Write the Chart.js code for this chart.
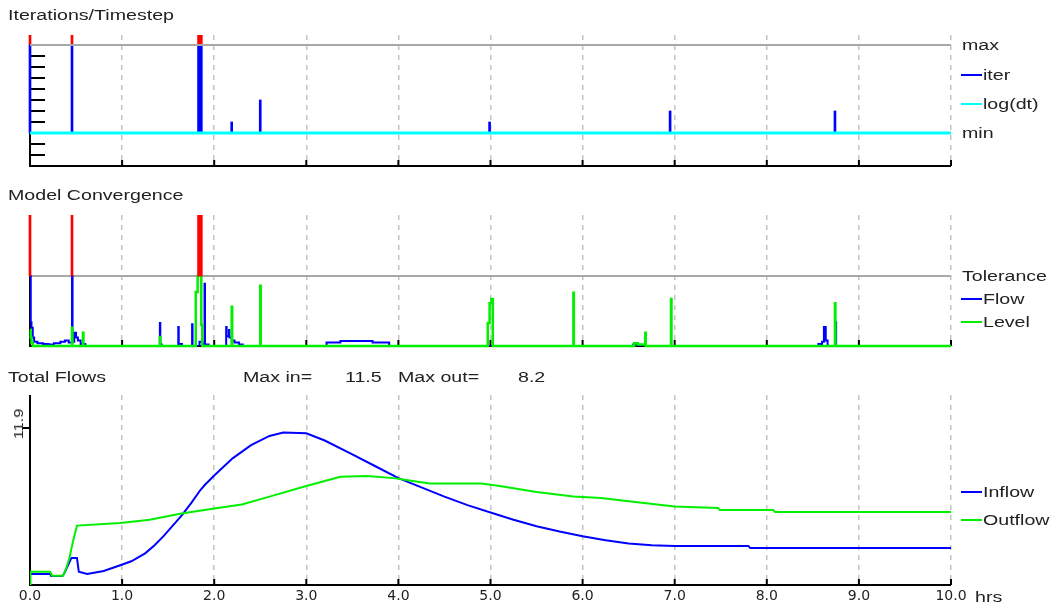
<!DOCTYPE html>
<html>
<head>
<meta charset="utf-8">
<script src="https://cdn.jsdelivr.net/npm/chart.js@4.4.0/dist/chart.umd.min.js"></script>
<style>
  body { margin: 0; background: #fff; }
  #wrap { position: relative; width: 1056px; height: 605px; overflow: hidden;
          font-family: "Liberation Sans", Arial, sans-serif; font-size: 14px; color: #222; }
  canvas { position: absolute; left: 0; }
  .t { position: absolute; white-space: nowrap; line-height: 16px;
       transform-origin: 0 50%; transform: scaleX(1.4); }
  .key { position: absolute; left: 961px; width: 21px; height: 2px; }
  .rot { position: absolute; white-space: nowrap; line-height: 14px; font-size: 13px;
         transform: translate(-50%, -50%) rotate(-90deg) scaleX(1.25); }
</style>
</head>
<body>
<div id="wrap">
  <canvas id="c1" width="1056" height="180" style="top:0"></canvas>
  <canvas id="c2" width="1056" height="180" style="top:180px"></canvas>
  <canvas id="c3" width="1056" height="245" style="top:360px"></canvas>

  <div class="t" style="left:8px;top:7px">Iterations/Timestep</div>
  <div class="t" style="left:962px;top:37px">max</div>
  <div class="key" style="top:74px;background:#0000ff"></div>
  <div class="t" style="left:983px;top:67px">iter</div>
  <div class="key" style="top:103px;background:#00ffff"></div>
  <div class="t" style="left:983px;top:96px">log(dt)</div>
  <div class="t" style="left:962px;top:125px">min</div>

  <div class="t" style="left:8px;top:187px">Model Convergence</div>
  <div class="t" style="left:962px;top:268px">Tolerance</div>
  <div class="key" style="top:298px;background:#0000ff"></div>
  <div class="t" style="left:983px;top:291px">Flow</div>
  <div class="key" style="top:321px;background:#00f000"></div>
  <div class="t" style="left:983px;top:314px">Level</div>

  <div class="t" style="left:8px;top:369px">Total Flows</div>
  <div class="t" style="left:243px;top:369px">Max in=</div>
  <div class="t" style="left:345px;top:369px">11.5</div>
  <div class="t" style="left:398px;top:369px">Max out=</div>
  <div class="t" style="left:518px;top:369px">8.2</div>
  <div class="key" style="top:491px;background:#0000ff"></div>
  <div class="t" style="left:983px;top:484px">Inflow</div>
  <div class="key" style="top:519px;background:#00f000"></div>
  <div class="t" style="left:983px;top:512px">Outflow</div>
  <div class="rot" style="left:19px;top:424px">11.9</div>
  <div class="t" style="left:975px;top:589px">hrs</div>
</div>

<script>
// --- data ---------------------------------------------------------------
const hourTicks = [0, 1, 2, 3, 4, 5, 6, 7, 8, 9, 10];

// iterations per timestep (above the min level)
const iterMax = 8;
const iterMin = 0;
const iterTicks = [-2, -1, 1, 2, 3, 4, 5, 6, 7];
const iterT = [0, 0.456, 1.83, 1.845, 1.86, 2.19, 2.5, 4.99, 6.95, 8.74];
const iterV = [8, 8, 8, 8, 8, 1, 3, 1, 2, 2];
const iterOverT = [0, 0.456, 1.83, 1.845, 1.86];
const logDtT = [0, 10];
const logDtV = [0, 0];

// convergence, relative to tolerance
const tolerance = 1;
const convOverT = [0, 0.456, 1.83, 1.845, 1.86];
const flowT = [0, 0.008, 0.016, 0.03, 0.045, 0.08, 0.14, 0.2, 0.26, 0.33, 0.38, 0.42,
  0.456, 0.462, 0.48, 0.5, 0.52, 0.55, 0.6, 1.41, 1.415, 1.43, 1.61, 1.615, 1.65,
  1.76, 1.765, 1.84, 1.87, 1.895, 1.9, 1.94, 2.13, 2.135, 2.16, 2.165, 2.19, 2.22,
  2.27, 2.31, 3.22, 3.37, 3.72, 3.9, 6.55, 6.58, 8.56, 8.6, 8.62, 8.64, 8.66,
  8.748, 8.753, 10];
const flowV = [1.0, 0.34, 0.26, 0.12, 0.06, 0.04, 0.03, 0.02, 0.04, 0.06, 0.08, 0.05,
  1.0, 0.06, 0.19, 0.12, 0.08, 0.03, 0, 0.33, 0.02, 0, 0.27, 0.03, 0,
  0.31, 0, 0.06, 0.03, 0.89, 0.02, 0, 0.27, 0.14, 0.23, 0.12, 0.08, 0.05,
  0.02, 0, 0.05, 0.07, 0.05, 0, 0.02, 0, 0.03, 0.06, 0.27, 0.08, 0,
  0.34, 0, 0];
const levelT = [0, 0.008, 0.016, 0.03, 0.456, 0.461, 0.575, 0.58, 1.41, 1.415,
  1.8, 1.82, 1.86, 1.87, 2.19, 2.195, 2.5, 2.505, 4.97, 4.99, 5.01, 5.025,
  5.9, 5.905, 6.56, 6.6, 6.68, 6.685, 6.96, 6.965, 8.74, 8.745, 10];
const levelV = [0.23, 0.12, 0.05, 0, 0.26, 0, 0.19, 0, 0.13, 0,
  0.77, 1.0, 0.3, 0, 0.56, 0, 0.86, 0, 0.33, 0.61, 0.67, 0,
  0.76, 0, 0.04, 0.02, 0.19, 0, 0.67, 0, 0.61, 0, 0];

// total flows
const inflowT = [0, 0.22, 0.23, 0.35, 0.37, 0.4, 0.45, 0.51, 0.53, 0.62, 0.8, 0.98,
  1.1, 1.25, 1.35, 1.45, 1.55, 1.65, 1.75, 1.85, 1.9, 2.0, 2.2, 2.4, 2.6, 2.75,
  3.0, 3.2, 3.5, 3.75, 4.0, 4.25, 4.5, 4.75, 5.0, 5.25, 5.5, 5.75, 6.0, 6.25,
  6.5, 6.75, 7.0, 7.8, 7.82, 10];
const inflowV = [0.83, 0.83, 0.68, 0.68, 0.85, 1.3, 2.05, 2.05, 1.0, 0.83, 1.06, 1.5,
  1.8, 2.4, 3.0, 3.7, 4.5, 5.3, 6.2, 7.2, 7.6, 8.3, 9.6, 10.6, 11.3, 11.55,
  11.5, 10.95, 9.9, 9.0, 8.1, 7.4, 6.7, 6.05, 5.5, 4.95, 4.45, 4.05, 3.7, 3.4,
  3.15, 3.02, 2.96, 2.96, 2.8, 2.8];
const outflowT = [0, 0.005, 0.22, 0.24, 0.36, 0.4, 0.43, 0.47, 0.51, 0.98, 1.3, 1.63,
  2.0, 2.3, 2.6, 3.0, 3.37, 3.66, 3.95, 4.05, 4.34, 4.9, 5.1, 5.5, 5.9, 6.2,
  6.5, 7.0, 7.47, 7.49, 8.07, 8.09, 10];
const outflowV = [0, 1.0, 1.0, 0.7, 0.7, 1.4, 2.1, 3.4, 4.5, 4.7, 4.95, 5.4,
  5.8, 6.1, 6.7, 7.5, 8.2, 8.26, 8.1, 8.0, 7.7, 7.7, 7.5, 7.05, 6.7, 6.6,
  6.35, 5.95, 5.84, 5.69, 5.69, 5.53, 5.53];
const flowTick = 11.9;

// --- helpers ------------------------------------------------------------
const BLUE = '#0000ff', GREEN = '#00f000', RED = '#ff0000', CYAN = '#00ffff', GREY = '#a8a8a8';
Chart.defaults.font.family = 'DejaVu Sans';

const pts = (ts, vs) => ts.map((t, i) => ({ x: t, y: vs[i] }));
const line = (ts, vs, color, width, extra) => Object.assign({
  type: 'line', data: pts(ts, vs), borderColor: color, borderWidth: width,
  pointRadius: 0, tension: 0, fill: false
}, extra || {});
const bars = (ts, lows, highs, color) => ({
  type: 'bar', data: ts.map((t, i) => ({ x: t, y: [lows[i], highs[i]] })),
  backgroundColor: color, barThickness: 2, grouped: false,
  clip: { left: 3, right: 3, top: 0, bottom: 0 }
});

function xScale(labels) {
  return {
    type: 'linear', min: 0, max: 10, offset: false,
    ticks: { display: labels, stepSize: 1, autoSkip: false, maxRotation: 0, padding: 3,
             color: '#222', font: { size: 14 }, callback: v => v.toFixed(1) },
    grid: { color: '#c4c4c4', lineWidth: 1.5, drawTicks: false, offset: false },
    border: { display: false, dash: [5, 5] },
    afterFit: s => { s.height = labels ? 20 : 0; }
  };
}

// axis lines, y ticks and inward hour ticks, under the data
const framePlugin = {
  id: 'frame',
  beforeDatasetsDraw(chart, args, opts) {
    const { ctx, chartArea: a, scales: { x, y } } = chart;
    ctx.save();
    ctx.strokeStyle = '#000';
    ctx.lineWidth = 2;
    ctx.beginPath();
    ctx.moveTo(a.left, a.top);
    ctx.lineTo(a.left, a.bottom);
    ctx.lineTo(a.right, a.bottom);
    (opts.yTicks || []).forEach(v => {
      const py = y.getPixelForValue(v);
      ctx.moveTo(a.left + opts.from, py);
      ctx.lineTo(a.left + opts.to, py);
    });
    hourTicks.slice(1).forEach(h => {
      const px = x.getPixelForValue(h);
      ctx.moveTo(px, a.bottom);
      ctx.lineTo(px, a.bottom - 6);
    });
    ctx.stroke();
    ctx.restore();
  }
};

function makeChart(id, datasets, yMin, yMax, labels, frame, pad) {
  return new Chart(document.getElementById(id), {
    type: 'line',
    data: { datasets: datasets },
    options: {
      responsive: false, animation: false,
      layout: { padding: pad },
      scales: { x: xScale(labels), y: { type: 'linear', min: yMin, max: yMax, display: false } },
      plugins: { legend: { display: false }, tooltip: { enabled: false }, frame: frame }
    },
    plugins: [framePlugin]
  });
}

// --- Iterations/Timestep ---
makeChart('c1', [
  line(logDtT, logDtV, CYAN, 3),
  line([0, 10], [iterMax, iterMax], GREY, 2),
  bars(iterT, iterT.map(() => iterMin), iterV, BLUE),
  bars(iterOverT, iterOverT.map(() => iterMax), iterOverT.map(() => 20), RED)
], -3, 8.9, false, { yTicks: iterTicks, from: 0, to: 15 },
{ top: 35, bottom: 14, left: 30, right: 105 });

// --- Model Convergence ---
makeChart('c2', [
  bars(convOverT, convOverT.map(() => tolerance), convOverT.map(() => 5), RED),
  line(levelT, levelV, GREEN, 2.5, { stepped: true, clip: 3 }),
  line(flowT, flowV, BLUE, 2, { stepped: true }),
  line([0, 10], [tolerance, tolerance], GREY, 2)
], 0, 1.87, false, {}, { top: 35, bottom: 14, left: 30, right: 105 });

// --- Total Flows ---
makeChart('c3', [
  line(outflowT, outflowV, GREEN, 2),
  line(inflowT, inflowV, BLUE, 2)
], 0, 14.4, true, { yTicks: [flowTick], from: -7, to: 0 },
{ top: 35, bottom: 0, left: 30, right: 105 });
</script>
</body>
</html>
